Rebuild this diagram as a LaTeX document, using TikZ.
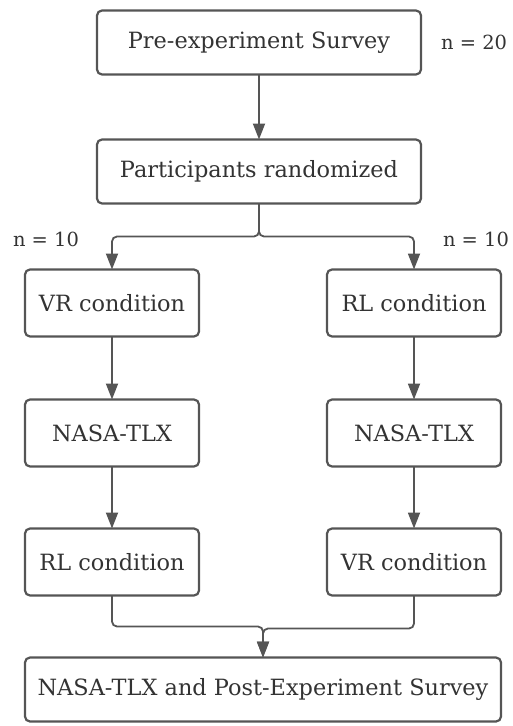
\documentclass[tikz,border=0pt]{standalone}
\usepackage{fontspec}
\setmainfont{DejaVu Serif}
\usetikzlibrary{positioning,arrows.meta,calc}
\definecolor{linegray}{HTML}{555555}
\definecolor{textgray}{HTML}{333333}

\begin{document}
\begin{tikzpicture}[
  x=1bp, y=1bp,
  box/.style={draw=linegray, line width=2.2bp, rounded corners=5bp, inner sep=0pt, outer sep=0pt, text=textgray, font=\fontsize{22.5}{27}\selectfont},
  wide/.style={box, minimum width=324bp, minimum height=64bp},
  narrow/.style={box, minimum width=174bp, minimum height=67bp},
  lbl/.style={text=textgray, font=\fontsize{19.5}{24}\selectfont, inner sep=0pt},
  arr/.style={-{Triangle[length=16bp,width=12bp]}, draw=linegray, line width=1.8bp},
  split/.style={arr, rounded corners=5bp}
]
\useasboundingbox (0,0) rectangle (513,-726);

% top of the flow
\node[wide] (pre) at (259,-42.5) {Pre-experiment Survey};
\node[lbl, right=20bp of pre] (nall) {n = 20};
\node[wide, below=65bp of pre] (rand) {Participants randomized};

% left arm
\node[narrow, below left=66bp and -102bp of rand] (vrA) {VR condition};
\node[narrow, below=63bp of vrA] (tlxA) {NASA-TLX};
\node[narrow, below=62bp of tlxA] (rlB) {RL condition};

% right arm
\node[narrow, below right=66bp and -94bp of rand] (rlA) {RL condition};
\node[narrow, below=63bp of rlA] (tlxB) {NASA-TLX};
\node[narrow, below=62bp of tlxB] (vrB) {VR condition};

\node[lbl] (nA) at ($(vrA.north west)+(21,30)$) {n = 10};
\node[lbl] (nB) at ($(rlA.north east)+(-25,30)$) {n = 10};

% final survey
\coordinate (mid) at ($(rlB.south)!0.5!(vrB.south)$);
\node[box, minimum width=476bp, minimum height=64bp, below=62bp of mid] (post) {NASA-TLX and Post-Experiment Survey};

\draw[arr] (pre) -- (rand);
\draw[split] (rand.south) -- ++(0,-33) -| (vrA.north);
\draw[split] (rand.south) -- ++(0,-33) -| (rlA.north);
\draw[arr] (vrA) -- (tlxA);
\draw[arr] (tlxA) -- (rlB);
\draw[arr] (rlA) -- (tlxB);
\draw[arr] (tlxB) -- (vrB);
\draw[split] (rlB.south) -- ++(0,-31) -| (post.north);
\draw[split] (vrB.south) -- ++(0,-33) -| (post.north);
\end{tikzpicture}
\end{document}
